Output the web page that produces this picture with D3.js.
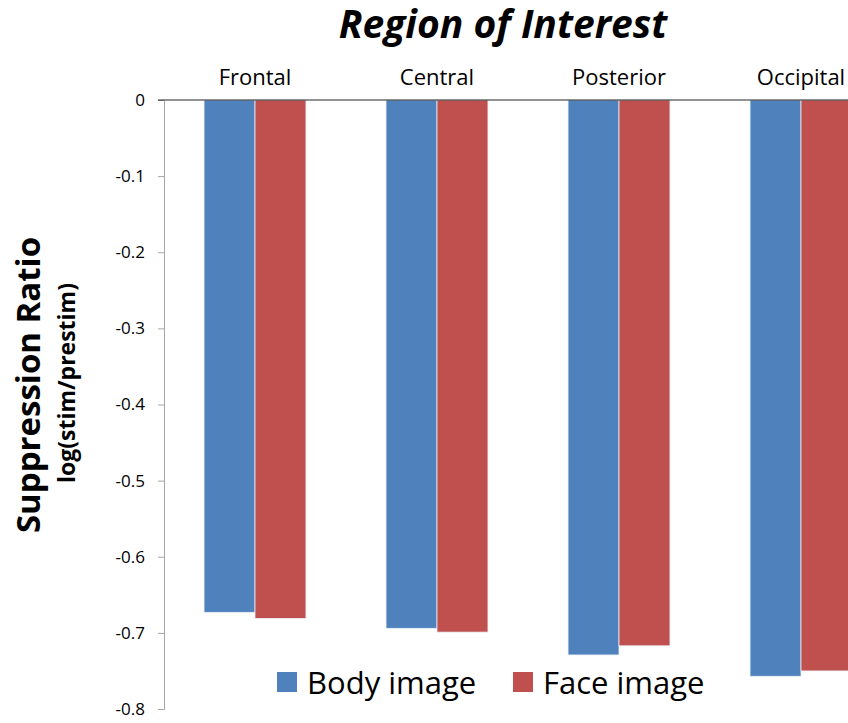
<!DOCTYPE html>
<html><head><meta charset="utf-8">
<script src="https://cdn.jsdelivr.net/npm/d3@7"></script>
<style>body{margin:0;background:#fff}svg{display:block}</style>
</head><body>
<script>
const categories = ["Frontal","Central","Posterior","Occipital"];
const seriesNames = ["Body image","Face image"];
const bodyValues = [-0.673,-0.694,-0.729,-0.757];
const faceValues = [-0.681,-0.699,-0.717,-0.750];
const yTicks = [0,-0.1,-0.2,-0.3,-0.4,-0.5,-0.6,-0.7,-0.8];
const colors = ["#4f81bd","#c0504d"];

const W=848,H=723;
const svg=d3.select("body").append("svg").attr("width",W).attr("height",H);
const font="'Open Sans', 'Noto Sans', sans-serif";
const mLeft=164, mRight=892, mTop=100, mBottom=709;
const x=d3.scaleBand().domain(categories).range([mLeft,mRight]).paddingInner(0.44).paddingOuter(0.22);
const x1=d3.scaleBand().domain(seriesNames).range([0,x.bandwidth()]);
const y=d3.scaleLinear().domain([0,-0.8]).range([mTop,mBottom]);

// y axis
const yAxis=svg.append("g").attr("transform",`translate(${mLeft},0)`)
  .call(d3.axisLeft(y).tickValues(yTicks).tickSize(6).tickFormat(d=>d===0?"0":d.toFixed(1)));
yAxis.select(".domain").attr("stroke","#a6a6a6");
yAxis.selectAll(".tick line").attr("stroke","#a6a6a6");
yAxis.selectAll(".tick text").attr("font-family",font).attr("font-size",17).attr("fill","#000").attr("x",-19);

// bars
const data=categories.map((c,i)=>({c,vals:[bodyValues[i],faceValues[i]]}));
const g=svg.append("g");
data.forEach(d=>{
  d.vals.forEach((v,j)=>{
    g.append("rect").attr("x",x(d.c)+x1(seriesNames[j])).attr("y",y(0))
      .attr("width",x1.bandwidth()).attr("height",y(v)-y(0))
      .attr("fill",colors[j]).attr("stroke","#e8eef6").attr("stroke-width",0.8);
  });
});

// zero line
svg.append("line").attr("x1",mLeft-6).attr("x2",W).attr("y1",y(0)).attr("y2",y(0)).attr("stroke","#262626").attr("stroke-width",1.2);

// category labels on top
svg.append("g").selectAll("text").data(categories).join("text")
  .attr("x",d=>x(d)+x.bandwidth()/2).attr("y",85)
  .attr("text-anchor","middle").attr("font-family",font).attr("font-size",22).text(d=>d);

// title
svg.append("text").attr("x",503).attr("y",38).attr("text-anchor","middle")
  .attr("font-family",font).attr("font-size",39).attr("font-weight","bold").attr("font-style","italic").text("Region of Interest");

// y titles
svg.append("text").attr("transform","translate(40,385) rotate(-90)").attr("text-anchor","middle")
  .attr("font-family",font).attr("font-size",33).attr("font-weight","bold").text("Suppression Ratio");
svg.append("text").attr("transform","translate(75,383) rotate(-90)").attr("text-anchor","middle")
  .attr("font-family",font).attr("font-size",23).attr("font-weight","bold").text("log(stim/prestim)");

// legend
const leg=svg.append("g");
const legX=[277,513];
seriesNames.forEach((s,i)=>{
  leg.append("rect").attr("x",legX[i]).attr("y",672).attr("width",20).attr("height",20).attr("fill",colors[i]);
  leg.append("text").attr("x",legX[i]+30).attr("y",694).attr("font-family",font).attr("font-size",31).text(s);
});
</script>
</body></html>
